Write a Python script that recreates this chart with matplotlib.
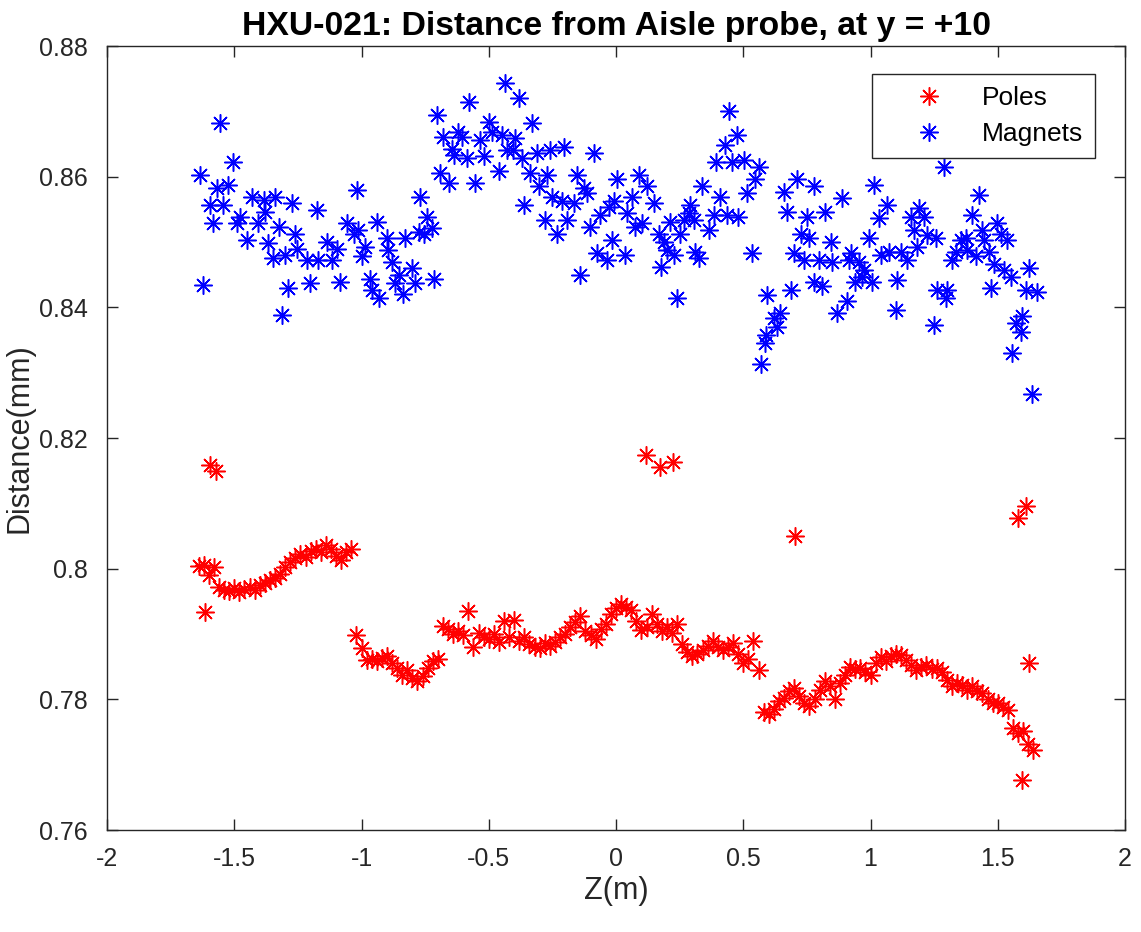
import numpy as np
import matplotlib
matplotlib.use("Agg")
import matplotlib.pyplot as plt
from matplotlib.ticker import FixedLocator, FixedFormatter

plt.rcParams['font.family'] = ['Liberation Sans', 'DejaVu Sans']

# ---- Poles: regular band on a 0.02 m grid plus separate outlier readings ----
pole_grid_start = -1.64
pole_grid_step = 0.02
poles_band = [
    0.8004, 0.8006, 0.7990, 0.8002, 0.7972, 0.7968, 0.7966, 0.7970, 0.7965, 0.7969,
    0.7972, 0.7968, 0.7975, 0.7978, 0.7982, 0.7986, 0.7992, 0.8002, 0.8010, 0.8016,
    0.8022, 0.8018, 0.8027, 0.8030, 0.8026, 0.8036, 0.8030, 0.8020, 0.8013, 0.8025,
    0.8030, 0.7898, 0.7878, 0.7860, 0.7862, 0.7858, 0.7864, 0.7866, 0.7855, 0.7848,
    0.7838, 0.7845, 0.7832, 0.7828, 0.7835, 0.7848, 0.7858, 0.7862, 0.7912, 0.7908,
    0.7900, 0.7905, 0.7898, 0.7935, 0.7880, 0.7902, 0.7895, 0.7892, 0.7900, 0.7888,
    0.7920, 0.7895, 0.7922, 0.7890, 0.7896, 0.7885, 0.7880, 0.7878, 0.7886, 0.7882,
    0.7888, 0.7895, 0.7900, 0.7910, 0.7918, 0.7928, 0.7905, 0.7898, 0.7893, 0.7908,
    0.7916, 0.7930, 0.7940, 0.7946, 0.7942, 0.7936, 0.7920, 0.7906, 0.7910, 0.7930,
    0.7915, 0.7905, 0.7910, 0.7902, 0.7916, 0.7884, 0.7872, 0.7866, 0.7870, 0.7876,
    0.7882, 0.7890, 0.7880, 0.7875, 0.7880, 0.7886, 0.7870, 0.7856, 0.7862, 0.7890,
    0.7845, 0.7780, 0.7778, 0.7785, 0.7798, 0.7802, 0.7812, 0.7818, 0.7805, 0.7795,
    0.7790, 0.7800, 0.7815, 0.7828, 0.7820, 0.7800, 0.7825, 0.7838, 0.7850, 0.7846,
    0.7848, 0.7842, 0.7838, 0.7855, 0.7865, 0.7858, 0.7866, 0.7870, 0.7868, 0.7860,
    0.7852, 0.7845, 0.7850, 0.7853, 0.7846, 0.7848, 0.7842, 0.7830, 0.7820, 0.7825,
    0.7822, 0.7815, 0.7820, 0.7812, 0.7809, 0.7800, 0.7795, 0.7794, 0.7788, 0.7784,
    0.7756, 0.7748, 0.7752, 0.7732, 0.7722,
]
poles_extra_z = [-1.615, -1.595, -1.571, 0.116, 0.172, 0.224, 0.703, 1.580, 1.610, 1.597, 1.623]
poles_extra = [0.7934, 0.8159, 0.8150, 0.8174, 0.8156, 0.8164, 0.8050, 0.8077, 0.8096, 0.7677, 0.7855]

# ---- Magnets ----
magnets_z = [
    -1.634, -1.621, -1.595, -1.582, -1.569, -1.555, -1.543, -1.523, -1.503, -1.490,
    -1.477, -1.451, -1.431, -1.405, -1.385, -1.380, -1.366, -1.346, -1.339, -1.326,
    -1.313, -1.300, -1.287, -1.274, -1.261, -1.254, -1.215, -1.202, -1.175, -1.170,
    -1.136, -1.117, -1.097, -1.084, -1.058, -1.031, -1.018, -1.012, -0.998, -0.986,
    -0.966, -0.959, -0.940, -0.933, -0.900, -0.895, -0.881, -0.867, -0.854, -0.835,
    -0.828, -0.802, -0.789, -0.776, -0.769, -0.756, -0.743, -0.723, -0.717, -0.704,
    -0.691, -0.678, -0.658, -0.645, -0.638, -0.619, -0.606, -0.586, -0.579, -0.553,
    -0.533, -0.520, -0.500,
    -0.487, -0.461, -0.448, -0.435, -0.429, -0.403, -0.396, -0.383, -0.370, -0.363,
    -0.337, -0.330, -0.311, -0.304, -0.278, -0.271, -0.258, -0.252, -0.232, -0.212,
    -0.206, -0.193, -0.166, -0.153, -0.140, -0.127, -0.114, -0.101, -0.088, -0.075,
    -0.061, -0.035, -0.029, -0.016, -0.009, 0.004, 0.037, 0.043, 0.063, 0.076,
    0.089, 0.102, 0.122, 0.148, 0.168, 0.175, 0.187, 0.201, 0.214, 0.227,
    0.240, 0.253, 0.266, 0.286, 0.292, 0.306, 0.312, 0.325, 0.338, 0.364,
    0.384, 0.391, 0.410, 0.430, 0.437, 0.443, 0.456, 0.476, 0.480, 0.502,
    0.515, 0.535, 0.548, 0.561, 0.568, 0.585, 0.588, 0.594, 0.620, 0.633,
    0.646, 0.660, 0.672, 0.686, 0.699, 0.711, 0.725, 0.738, 0.751, 0.758,
    0.777, 0.777,
    0.797, 0.810, 0.823, 0.843, 0.849, 0.869, 0.889, 0.908, 0.915, 0.922,
    0.941, 0.954, 0.968, 0.974, 0.994, 1.007, 1.013, 1.033, 1.040, 1.066,
    1.072, 1.099, 1.105, 1.118, 1.145, 1.158, 1.171, 1.184, 1.191, 1.210,
    1.223, 1.249, 1.256, 1.262, 1.289, 1.295, 1.302, 1.321, 1.335, 1.354,
    1.374, 1.380, 1.400, 1.413, 1.426, 1.439, 1.446, 1.466, 1.472, 1.485,
    1.498, 1.511, 1.524, 1.538, 1.551, 1.557, 1.571, 1.590, 1.597, 1.610,
    1.623, 1.636, 1.656,
]
magnets = [
    0.8603, 0.8434, 0.8557, 0.8529, 0.8582, 0.8682, 0.8557, 0.8587, 0.8623, 0.8529,
    0.8539, 0.8503, 0.8569, 0.8529, 0.8564, 0.8546, 0.8498, 0.8475, 0.8569, 0.8523,
    0.8388, 0.8480, 0.8429, 0.8559, 0.8513, 0.8490, 0.8472, 0.8437, 0.8549, 0.8472,
    0.8500, 0.8472, 0.8490, 0.8439, 0.8529, 0.8513, 0.8580, 0.8518, 0.8478, 0.8493,
    0.8444, 0.8427, 0.8531, 0.8414, 0.8506, 0.8488, 0.8470, 0.8437, 0.8450, 0.8421,
    0.8506, 0.8460, 0.8437, 0.8516, 0.8569, 0.8513, 0.8539, 0.8521, 0.8444, 0.8694,
    0.8605, 0.8661, 0.8590, 0.8643, 0.8633, 0.8669, 0.8661, 0.8628, 0.8715, 0.8590,
    0.8656, 0.8631, 0.8684,
    0.8669, 0.8608, 0.8664, 0.8743, 0.8641, 0.8641, 0.8659, 0.8720, 0.8628, 0.8557,
    0.8605, 0.8682, 0.8636, 0.8585, 0.8534, 0.8603, 0.8641, 0.8569, 0.8513, 0.8562,
    0.8646, 0.8534, 0.8559, 0.8603, 0.8450, 0.8582, 0.8575, 0.8523, 0.8636, 0.8483,
    0.8541, 0.8472, 0.8554, 0.8503, 0.8562, 0.8597, 0.8480, 0.8544, 0.8569, 0.8523,
    0.8603, 0.8529, 0.8585, 0.8559, 0.8513, 0.8462, 0.8500, 0.8488, 0.8531, 0.8480,
    0.8414, 0.8513, 0.8534, 0.8544, 0.8557, 0.8534, 0.8485, 0.8475, 0.8585, 0.8518,
    0.8541, 0.8623, 0.8569, 0.8648, 0.8541, 0.8700, 0.8623, 0.8664, 0.8539, 0.8626,
    0.8575, 0.8483, 0.8597, 0.8615, 0.8314, 0.8345, 0.8358, 0.8419, 0.8383, 0.8370,
    0.8391, 0.8577, 0.8546, 0.8427, 0.8483, 0.8597, 0.8513, 0.8472, 0.8539, 0.8506,
    0.8585, 0.8439,
    0.8472, 0.8432, 0.8546, 0.8500, 0.8470, 0.8391, 0.8567, 0.8409, 0.8472, 0.8483,
    0.8439, 0.8470, 0.8447, 0.8457, 0.8506, 0.8439, 0.8587, 0.8536, 0.8480, 0.8557,
    0.8485, 0.8396, 0.8442, 0.8485, 0.8472, 0.8539, 0.8518, 0.8493, 0.8552, 0.8539,
    0.8511, 0.8373, 0.8506, 0.8427, 0.8615, 0.8414, 0.8427, 0.8472, 0.8485, 0.8503,
    0.8506, 0.8488, 0.8541, 0.8478, 0.8572, 0.8518, 0.8503, 0.8485, 0.8429, 0.8467,
    0.8529, 0.8513, 0.8457, 0.8503, 0.8447, 0.8330, 0.8376, 0.8363, 0.8386, 0.8427,
    0.8460, 0.8268, 0.8424,
]

x_ticks = [-2, -1.5, -1, -0.5, 0, 0.5, 1, 1.5, 2]
x_tick_labels = ['-2', '-1.5', '-1', '-0.5', '0', '0.5', '1', '1.5', '2']
y_ticks = [0.76, 0.78, 0.80, 0.82, 0.84, 0.86, 0.88]
y_tick_labels = ['0.76', '0.78', '0.8', '0.82', '0.84', '0.86', '0.88']

pole_grid_z = np.round(pole_grid_start + pole_grid_step * np.arange(len(poles_band)), 3)
poles_z = list(pole_grid_z) + poles_extra_z
poles = poles_band + poles_extra

fig = plt.figure(figsize=(11.41, 9.32), dpi=100)
ax = fig.add_axes([107 / 1141, 1 - 830 / 932, (1125 - 107) / 1141, (830 - 46) / 932])

star = (8, 2, 0)
ax.plot(poles_z, poles, linestyle='none', marker=star, markersize=13,
        markeredgewidth=1.1, color=(1, 0, 0), label='Poles')
ax.plot(magnets_z, magnets, linestyle='none', marker=star, markersize=13,
        markeredgewidth=1.1, color=(0, 0, 1), label='Magnets')

ax.set_xlim(-2, 2)
ax.set_ylim(0.76, 0.88)
ax.xaxis.set_major_locator(FixedLocator(x_ticks))
ax.xaxis.set_major_formatter(FixedFormatter(x_tick_labels))
ax.yaxis.set_major_locator(FixedLocator(y_ticks))
ax.yaxis.set_major_formatter(FixedFormatter(y_tick_labels))
ax.tick_params(direction='in', length=8, width=1, top=True, right=True,
               labelsize=18, colors='#262626')
ax.tick_params(axis='x', pad=12)
ax.tick_params(axis='y', pad=14)
for sp in ax.spines.values():
    sp.set_color('#262626')
    sp.set_linewidth(1)

ax.set_title('HXU-021: Distance from Aisle probe, at y = +10', fontsize=24.3,
             fontweight='bold', color='black', pad=8)
ax.set_xlabel('Z(m)', fontsize=22, color='#262626', labelpad=4)
ax.set_ylabel('Distance(mm)', fontsize=22, color='#262626', labelpad=3)

leg = ax.legend(loc='upper right', bbox_to_anchor=(1095 / 1141, 1 - 74 / 932),
                bbox_transform=fig.transFigure, fontsize=19, frameon=True,
                fancybox=False, edgecolor='#262626', framealpha=1,
                handlelength=3.4, handletextpad=0.3, borderpad=0.45,
                labelspacing=0.45, borderaxespad=0)
leg.get_frame().set_linewidth(1)

fig.savefig('out.png', dpi=100, facecolor='white')
